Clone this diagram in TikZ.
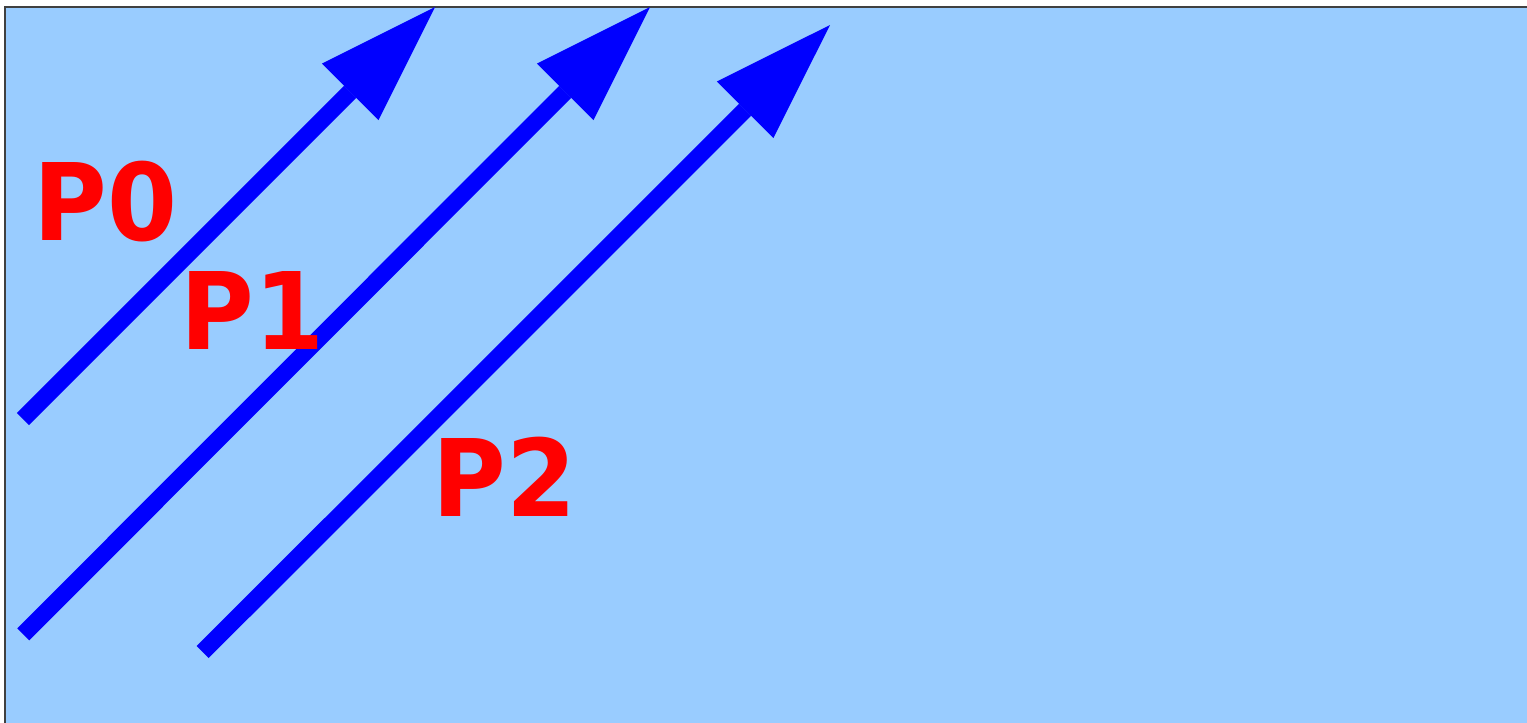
\documentclass[tikz,border=0pt]{standalone}
\usepackage{fontspec}
\newfontfamily\lblfont[FakeStretch=1.045]{DejaVu Sans Condensed}
\usetikzlibrary{arrows.meta}
\definecolor{bgblue}{HTML}{99CCFF}
\definecolor{arrblue}{HTML}{0000FF}
\definecolor{lblred}{HTML}{FF0000}
\tikzset{
  vec/.style={draw=arrblue, line width=17pt, line cap=butt,
    -{Triangle[length=120pt,width=80pt,line width=0pt,fill=arrblue]}},
  lbl/.style={text=lblred, font=\lblfont\fontsize{107}{107}\selectfont\bfseries,
    anchor=base west, inner sep=0pt, outer sep=0pt}
}
\begin{document}
\begin{tikzpicture}[x=1pt,y=-1pt]
\useasboundingbox (0,0) rectangle (1527,723);
\fill[bgblue, draw=black!75, line width=1.3pt] (5,7) rectangle (1540,740);
\coordinate (p0s) at (23,419);
\coordinate (p0e) at (435,7);
\coordinate (p1s) at (23.3,634.3);
\coordinate (p1e) at (650,7);
\coordinate (p2s) at (202.7,652);
\coordinate (p2e) at (830,25);
\draw[vec] (p0s) -- (p0e);
\draw[vec] (p1s) -- (p1e);
\draw[vec] (p2s) -- (p2e);
\node[lbl] (l0) at (33.5,240.7) {P0};
\node[lbl] (l1) at (180.5,349) {P1};
\node[lbl] (l2) at (432.5,516) {P2};
\end{tikzpicture}
\end{document}
